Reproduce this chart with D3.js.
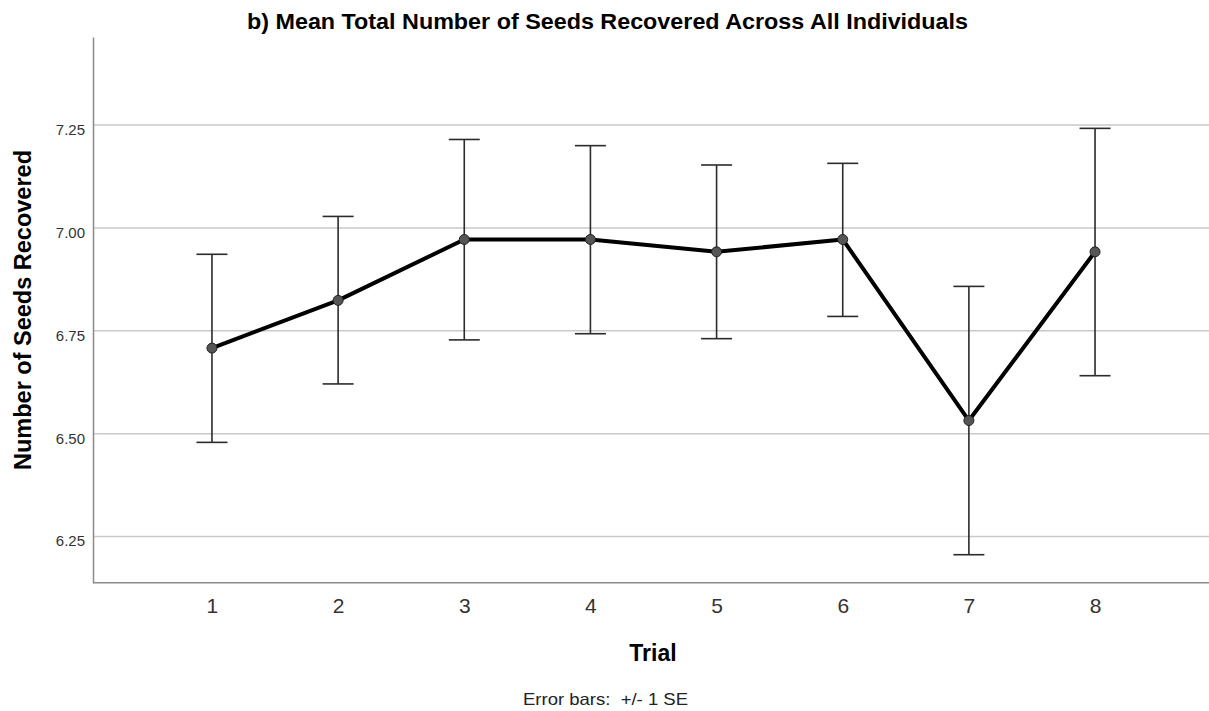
<!DOCTYPE html>
<html><head><meta charset="utf-8">
<script src="https://cdn.jsdelivr.net/npm/d3@7"></script>
<style>body{margin:0;background:#fff;} svg{display:block;font-family:"Liberation Sans",Arial,sans-serif;}</style>
</head><body>
<script>
const trials = [1,2,3,4,5,6,7,8];
const means = [6.708,6.824,6.972,6.972,6.942,6.972,6.532,6.942];
const upper = [6.936,7.028,7.215,7.200,7.153,7.157,6.858,7.242];
const lower = [6.479,6.621,6.728,6.743,6.731,6.785,6.206,6.641];
const yTicks = [6.25,6.50,6.75,7.00,7.25];

const W=1209,H=711;
const m={left:93,right:0,top:37,bottom:129};
const FF="Liberation Sans, Arial, sans-serif";
const svg=d3.select("body").append("svg").attr("width",W).attr("height",H);
const x=d3.scalePoint().domain(trials).range([m.left,1214]).padding(0.943);
const y=d3.scaleLinear().domain([6.138,7.464]).range([H-m.bottom+0.7,m.top]);

// gridlines
svg.append("g").selectAll("line").data(yTicks).join("line")
  .attr("x1",m.left).attr("x2",W).attr("y1",d=>y(d)).attr("y2",d=>y(d))
  .attr("stroke","#c9c9c9").attr("stroke-width",1.5);

// y axis
const ya=svg.append("g").attr("transform",`translate(${m.left},0)`)
  .call(d3.axisLeft(y).tickValues(yTicks).tickFormat(d3.format(".2f")).tickSize(0).tickPadding(8));
ya.select(".domain").attr("stroke","#8a8a8a").attr("stroke-width",1.5);
ya.selectAll("text").attr("font-size",15).attr("fill","#333").attr("font-family",FF).attr("dy","0.62em");

// x axis
const xa=svg.append("g").attr("transform",`translate(0,${y(6.138)})`)
  .call(d3.axisBottom(x).tickSize(0).tickPadding(15));
xa.select(".domain").attr("d",`M${m.left},0H${W}`).attr("stroke","#8a8a8a").attr("stroke-width",1.5);
xa.selectAll("text").attr("font-size",21).attr("fill","#333").attr("font-family",FF);

// error bars
const eb=svg.append("g").attr("stroke","#2b2b2b").attr("stroke-width",1.6);
trials.forEach((t,i)=>{
  const cx=x(t);
  eb.append("line").attr("x1",cx).attr("x2",cx).attr("y1",y(upper[i])).attr("y2",y(lower[i]));
  eb.append("line").attr("x1",cx-15.5).attr("x2",cx+15.5).attr("y1",y(upper[i])).attr("y2",y(upper[i]));
  eb.append("line").attr("x1",cx-15.5).attr("x2",cx+15.5).attr("y1",y(lower[i])).attr("y2",y(lower[i]));
});

// line
const line=d3.line().x((d,i)=>x(trials[i])).y(d=>y(d));
svg.append("path").datum(means).attr("d",line).attr("fill","none")
  .attr("stroke","#000").attr("stroke-width",4).attr("stroke-linejoin","round");

// points
svg.append("g").selectAll("circle").data(means).join("circle")
  .attr("cx",(d,i)=>x(trials[i])).attr("cy",d=>y(d)).attr("r",5)
  .attr("fill","#555").attr("stroke","#222").attr("stroke-width",1);

// titles
svg.append("text").attr("x",607.5).attr("y",29).attr("text-anchor","middle")
  .attr("font-weight","bold").attr("font-size",22).attr("fill","#000")
  .attr("textLength",721).attr("lengthAdjust","spacingAndGlyphs")
  .text("b) Mean Total Number of Seeds Recovered Across All Individuals");
svg.append("text").attr("transform","translate(31,310) rotate(-90)").attr("text-anchor","middle")
  .attr("font-weight","bold").attr("font-size",23.5).attr("fill","#000")
  .text("Number of Seeds Recovered");
svg.append("text").attr("x",653).attr("y",661).attr("text-anchor","middle")
  .attr("font-weight","bold").attr("font-size",23).attr("fill","#000").text("Trial");
svg.append("text").attr("x",605.5).attr("y",705).attr("text-anchor","middle")
  .attr("font-size",16.5).attr("fill","#222").attr("xml:space","preserve")
  .attr("textLength",165).attr("lengthAdjust","spacingAndGlyphs")
  .text("Error bars:  +/- 1 SE");
</script>
</body></html>
